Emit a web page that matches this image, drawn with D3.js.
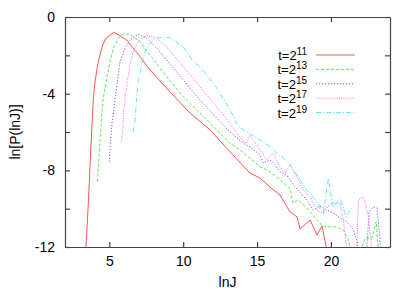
<!DOCTYPE html>
<html lang="en">
<head>
<meta charset="UTF-8">
<title>ln P(lnJ)</title>
<script src="https://d3js.org/d3.v7.min.js"></script>
<style>
  body { margin: 0; background: #fff; }
  svg { font-family: "Liberation Sans", Arial, sans-serif; }
  .axis text { font-size: 14px; fill: #000; }
  .axis path, .axis line { stroke: #444; stroke-width: 1.2; }
  .curve { fill: none; stroke-width: 1; }
</style>
</head>
<body>
<svg id="chart"></svg>
<script>
// values
const xTicks = [5, 10, 15, 20];
const yTicks = [0, -2, -4, -6, -8, -10, -12];
const labels = ["11", "13", "15", "17", "19"];

const t11X = [3.42, 3.58, 3.65, 3.74, 3.83, 3.92, 4.03, 4.21, 4.37, 4.55, 4.78, 5.32, 6.18, 7.08, 7.75, 9.11, 10.46, 11.82, 12.95, 14.52, 15.2, 15.88, 16.56, 17.23, 17.71, 17.91, 18.59, 19.06, 19.4, 19.74];
const t11Y = [-12, -9.7, -8.5, -6.94, -5.63, -4.23, -3.39, -2.5, -1.98, -1.46, -1.1, -0.8, -1.2, -2.07, -2.76, -3.91, -5.01, -5.89, -6.85, -8.14, -8.4, -8.87, -9.29, -10.17, -10.43, -11.06, -10.59, -11.37, -10.9, -12.2];

const t13X = [4.19, 4.32, 4.42, 4.48, 4.59, 4.82, 5.05, 5.27, 5.61, 5.95, 6.4, 7.08, 7.75, 8.89, 10.01, 11.14, 12.27, 13.17, 13.85, 14.53, 15.2, 15.88, 16.56, 17.23, 17.44, 17.77, 18.36, 19.04, 19.49, 20.4, 20.84, 21.18, 21.3, 21.7, 22.09, 22.31, 22.77, 23.06, 23.21];
const t13Y = [-8.59, -7.11, -5.89, -5.11, -4.24, -3.2, -2.33, -1.63, -1.11, -0.89, -0.9, -1.29, -1.98, -3.11, -4.16, -5.02, -5.89, -6.59, -6.94, -7.37, -7.81, -8.07, -8.5, -8.94, -9.7, -9.55, -9.96, -10.59, -10.94, -10.95, -11.11, -11.63, -12.05, -13, -12.05, -11.54, -11.54, -10.68, -12.2];

const t15X = [5.0, 5.09, 5.2, 5.27, 5.39, 5.54, 5.72, 6.06, 6.4, 6.94, 7.53, 8.21, 8.89, 10.01, 11.14, 12.27, 13.17, 14.07, 14.53, 15.2, 15.43, 15.88, 16.56, 17.01, 17.46, 17.91, 18.36, 18.81, 19.26, 19.72, 20.17, 20.62, 21.07, 21.52, 21.75, 21.86, 22.2, 22.43, 22.58, 22.87, 23.12, 23.39];
const t15Y = [-7.56, -6.42, -5.37, -5.11, -4.24, -3.38, -2.33, -1.63, -1.2, -0.9, -1.11, -1.63, -2.24, -3.29, -4.33, -5.28, -6.0, -6.59, -6.77, -7.2, -7.63, -7.46, -8.07, -8.24, -8.76, -9.15, -9.55, -10.07, -9.86, -10.07, -10.24, -10.5, -10.68, -11.11, -11.63, -12.05, -13, -12.05, -10.17, -9.9, -9.96, -12.2];

const t17X = [5.83, 5.91, 5.95, 6.06, 6.22, 6.4, 6.62, 6.96, 7.3, 7.57, 8.21, 8.89, 10.01, 11.14, 12.27, 13.17, 13.62, 14.07, 14.3, 14.53, 15.2, 15.66, 16.1, 16.56, 16.9, 17.23, 17.69, 18.13, 18.59, 19.04, 19.49, 19.95, 20.62, 20.84, 21.07, 21.4, 21.75, 21.86, 22.2, 22.53, 22.78];
const t17Y = [-6.5, -5.89, -5.11, -4.24, -3.38, -2.5, -1.81, -1.29, -1.03, -0.98, -1.11, -1.56, -2.59, -3.64, -4.68, -5.55, -6.07, -6.5, -6.59, -6.16, -6.94, -7.46, -7.11, -7.81, -8.15, -7.72, -8.33, -9.02, -9.39, -10.07, -10.24, -9.72, -9.72, -10.59, -12.05, -13, -12.05, -9.55, -9.37, -10.38, -12.2];

const t19X = [6.6, 6.74, 6.85, 6.96, 7.19, 7.42, 7.75, 8.21, 8.66, 9.11, 10.01, 10.69, 11.14, 12.27, 13.17, 13.62, 14.07, 14.53, 15.2, 15.88, 16.22, 16.78, 17.23, 17.91, 18.36, 19.04, 19.49, 19.83, 20.15, 20.62, 21.03, 21.41];
const t19Y = [-6.02, -5.37, -4.24, -3.38, -2.5, -1.81, -1.37, -1.11, -1.03, -1.08, -1.55, -2.33, -2.59, -3.7, -4.85, -5.58, -5.89, -6.1, -6.42, -6.77, -7.03, -7.37, -7.72, -8.5, -9.02, -9.63, -10.24, -8.41, -9.96, -9.46, -10.42, -9.96];

const seriesX = [t11X, t13X, t15X, t17X, t19X];
const seriesY = [t11Y, t13Y, t15Y, t17Y, t19Y];
const colors = ["#ff5555", "#55ee55", "#6060ff", "#ff66ff", "#55eeee"];
const dashes = [null, "3,2", "1.2,1.8", "1,1.3", "5,2,1,2"];

const W = 415, H = 291;
const m = { left: 65, right: 25, top: 17, bottom: 44 };

const svg = d3.select("#chart").attr("width", W).attr("height", H);

const x = d3.scaleLinear().domain([2, 24]).range([m.left, W - m.right]);
const y = d3.scaleLinear().domain([-12, 0]).range([H - m.bottom, m.top]);

svg.append("clipPath").attr("id", "clip")
  .append("rect")
  .attr("x", m.left).attr("y", m.top)
  .attr("width", W - m.left - m.right).attr("height", H - m.top - m.bottom);

// curves
const line = d3.line().x(d => x(d[0])).y(d => y(d[1]));
const plot = svg.append("g").attr("clip-path", "url(#clip)");
seriesX.forEach((xs, i) => {
  plot.append("path")
    .attr("class", "curve")
    .attr("d", line(xs.map((v, j) => [v, seriesY[i][j]])))
    .attr("stroke", colors[i])
    .attr("stroke-dasharray", dashes[i]);
});

// axes, ticks pointing inward
const tk = 5;
svg.append("g").attr("class", "axis")
  .attr("transform", `translate(0,${H - m.bottom})`)
  .call(d3.axisBottom(x).tickValues(xTicks).tickSizeInner(-tk).tickSizeOuter(0).tickPadding(9));
svg.append("g").attr("class", "axis")
  .attr("transform", `translate(0,${m.top})`)
  .call(d3.axisTop(x).tickValues(xTicks).tickSizeInner(-tk).tickSizeOuter(0).tickFormat(""));
svg.append("g").attr("class", "axis")
  .attr("transform", `translate(${m.left},0)`)
  .call(d3.axisLeft(y).tickValues(yTicks).tickSizeInner(-tk).tickSizeOuter(0).tickPadding(10)
    .tickFormat(d => d % 4 === 0 ? String(d) : ""));
svg.append("g").attr("class", "axis")
  .attr("transform", `translate(${W - m.right},0)`)
  .call(d3.axisRight(y).tickValues(yTicks).tickSizeInner(-tk).tickSizeOuter(0).tickFormat(""));

// axis titles
svg.append("text")
  .attr("x", (m.left + W - m.right) / 2).attr("y", 287)
  .attr("text-anchor", "middle").attr("font-size", 14)
  .text("lnJ");
svg.append("text")
  .attr("transform", `translate(20,${(m.top + H - m.bottom) / 2}) rotate(-90)`)
  .attr("text-anchor", "middle").attr("font-size", 14)
  .text("ln[P(lnJ)]");

// legend
const legend = svg.append("g");
labels.forEach((lab, i) => {
  const ly = 55 + i * 14.4;
  const t = legend.append("text")
    .attr("x", 307).attr("y", ly + 5)
    .attr("text-anchor", "end").attr("font-size", 13);
  t.append("tspan").text("t=2");
  t.append("tspan").attr("font-size", 10).attr("dy", -5).text(lab);
  legend.append("line")
    .attr("x1", 316).attr("x2", 355).attr("y1", ly).attr("y2", ly)
    .attr("stroke", colors[i]).attr("stroke-width", 1)
    .attr("stroke-dasharray", dashes[i]);
});
</script>
</body>
</html>
